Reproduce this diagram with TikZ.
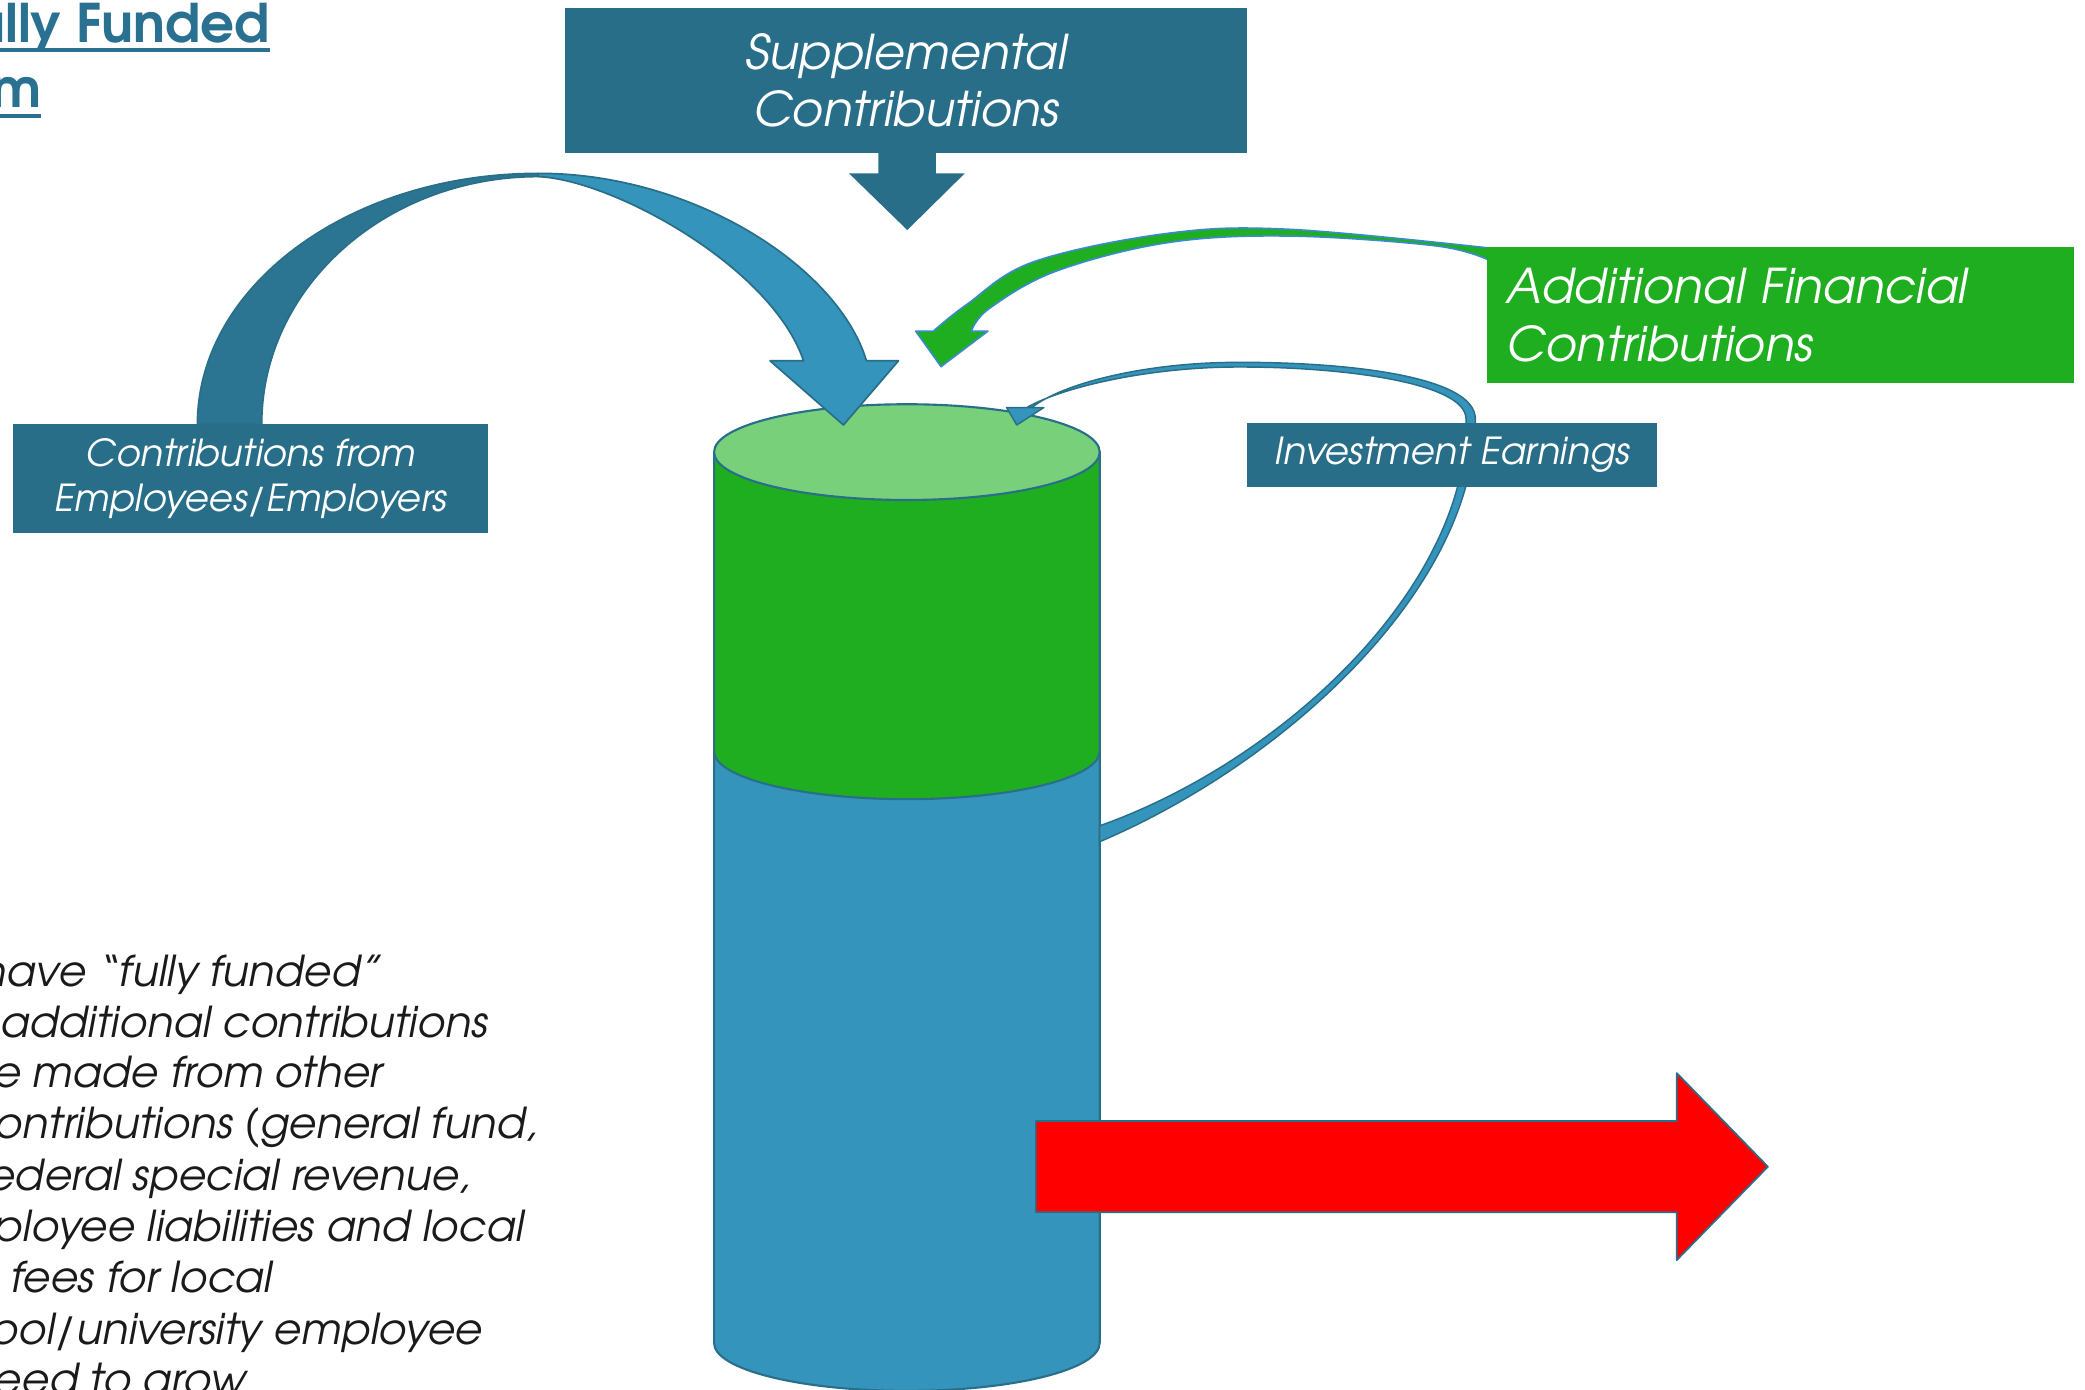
\documentclass[tikz,border=0pt]{standalone}
\usepackage{fontspec}
\setmainfont{texgyreadventor}[Extension=.otf, UprightFont=*-regular, BoldFont=*-bold, ItalicFont=*-italic, BoldItalicFont=*-bolditalic]
\definecolor{boxteal}{HTML}{296E89}
\definecolor{lightblue}{HTML}{3594BB}
\definecolor{darkband}{HTML}{2B7592}
\definecolor{edgeteal}{HTML}{2A6F8A}
\definecolor{grn}{HTML}{1FAE20}
\definecolor{lightgrn}{HTML}{78D07B}
\definecolor{ribbonblue}{HTML}{3A8AD0}
\definecolor{titleteal}{HTML}{2A7090}
\definecolor{bodyblack}{HTML}{1A1A1A}
\begin{document}
\begin{tikzpicture}[x=1pt,y=-1pt,
  tealbox/.style={fill=boxteal, draw=none, text=white, inner sep=0pt, align=center},
  bodytxt/.style={anchor=base east, inner sep=0pt, text=bodyblack, font=\fontsize{32}{38}\selectfont\itshape},
  titletxt/.style={anchor=base east, inner sep=0pt, text=titleteal, font=\fontsize{40}{48}\selectfont\bfseries},
  titleline/.style={draw=titleteal, line width=3pt},
  cyl/.style={draw=edgeteal, line width=1.6pt},
  shapeedge/.style={draw=edgeteal, line width=1.3pt, line join=round}]
\useasboundingbox (0,0) rectangle (1568,1045);
\fill[white] (0,0) rectangle (1568,1045);
\clip (0,0) rectangle (1568,1045);

% ---- cylinder ----
\path[cyl, fill=lightblue] (537,565) -- (537,1010) arc[start angle=180, end angle=360, x radius=145pt, y radius=36pt] -- (827,565) -- cycle;
\path[cyl, fill=grn] (537,340) -- (537,565) arc[start angle=180, end angle=360, x radius=145pt, y radius=36pt] -- (827,340) -- cycle;
\path[cyl, fill=lightgrn] (682,340) ellipse [x radius=145pt, y radius=36pt];
\coordinate (cyltop) at (682,340);

% ---- red outflow arrow ----
\path[shapeedge, fill=red] (779,843) -- (1261,843) -- (1261,807) -- (1329.5,877.4) -- (1261,947.6) -- (1261,911.7) -- (779,911.7) -- cycle;

% ---- big curved arrow (contributions from employees/employers) ----
\path[shapeedge, fill=darkband] (148.5,319) .. controls (148.5,214.8) and (263.2,130.4) .. (404.7,130.4) -- (404.7,132.8) .. controls (289.9,132.8) and (196.8,216.2) .. (196.8,319) -- cycle;
\path[shapeedge, fill=lightblue] (404.7,130.4) .. controls (520,130) and (630,200) .. (651.6,271.3) -- (675.7,271.3) -- (634.3,319.6) -- (579.1,271.3) -- (604.3,271.3) .. controls (580,200) and (460,135) .. (404.7,132.8) -- cycle;

% ---- supplemental down arrow ----
\path[fill=boxteal] (660.6,114) -- (660.6,130.4) -- (638.5,130.4) -- (682.3,173) -- (725.5,130.4) -- (703.8,130.4) -- (703.8,114) -- cycle;

% ---- green ribbon arrow (additional financial contributions) ----
\path[draw=ribbonblue, line width=1.2pt, fill=grn, line join=round]
  plot[smooth, tension=0.6] coordinates {(702,249) (727,229) (777,197) (878,175.5) (969,172.4) (1120,186.5)}
  -- plot[smooth, tension=0.6] coordinates {(1120,195.8) (1079.7,184.9) (969,177.5) (878,182.5) (794,204) (744,232) (730.5,249)}
  -- (743,249) -- (707.7,275.7) -- (688.6,249) -- cycle;

% ---- investment earnings ribbon ----
\path[draw=edgeteal, line width=1.1pt, fill=lightblue, line join=round]
  (827,633) .. controls (968,573) and (1110,441) .. (1109.5,315)
  .. controls (1109.5,282.5) and (1011,272) .. (928,272.5)
  .. controls (858,273) and (798,289) .. (776,306.5)
  -- (773,306)
  .. controls (799,291.5) and (861,276.5) .. (928,276)
  .. controls (1008,275.5) and (1102.5,287.5) .. (1102.5,315)
  .. controls (1105.5,438.5) and (967,571.5) .. (827,621) -- cycle;
\path[draw=edgeteal, line width=1.1pt, fill=lightblue, line join=round] (757,306.5) -- (785,306.5) -- (764.6,319.6) -- cycle;

% ---- boxes ----
\node[tealbox, minimum width=513pt, minimum height=109pt, font=\fontsize{36}{43}\selectfont\itshape] (supp) at (681.5,60.5) {Supplemental\\Contributions};
\node[tealbox, minimum width=357pt, minimum height=82pt, font=\fontsize{28}{34}\selectfont\itshape] (emp) at (188.5,360) {Contributions from\\Employees/Employers};
\node[tealbox, minimum width=308pt, minimum height=48pt, font=\fontsize{28}{34}\selectfont\itshape] (inv) at (1092,342) {Investment Earnings};
\node[fill=grn, text=white, inner xsep=15pt, inner ysep=0pt, text width=412pt, minimum height=102pt, align=left, font=\fontsize{36}{43}\selectfont\itshape] (addl) at (1339,237) {Additional Financial\\Contributions};

% ---- title (cut at left edge) ----
\node[titletxt] (t1) at (203,32) {Fully Funded};
\node[titletxt] (t2) at (31,81) {System};
\draw[titleline] (0,37.5) -- (203,37.5);
\draw[titleline] (0,87) -- (31,87);

% ---- body text (cut at left and bottom edges) ----
\node[bodytxt] (b1) at (287,742) {have “fully funded”};
\node[bodytxt] (b2) at (367,780) {additional contributions};
\node[bodytxt] (b3) at (288,818) {are made from other};
\node[bodytxt] (b4) at (404,856) {contributions (general fund,};
\node[bodytxt] (b5) at (354,895) {federal special revenue,};
\node[bodytxt] (b6) at (394,934) {employee liabilities and local};
\node[bodytxt] (b7) at (205,972) {fees for local};
\node[bodytxt] (b8) at (363,1011) {school/university employee};
\node[bodytxt] (b9) at (185,1049) {need to grow};
\end{tikzpicture}
\end{document}
